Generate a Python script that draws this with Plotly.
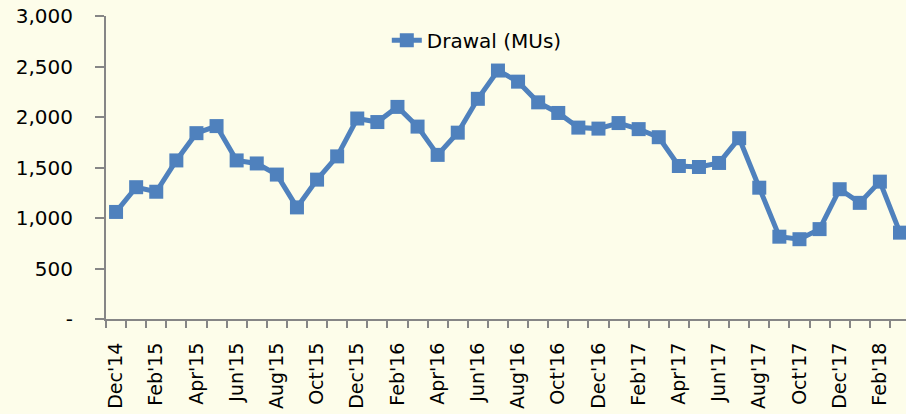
import plotly.graph_objects as go

months = ["Dec'14", "Jan'15", "Feb'15", "Mar'15", "Apr'15", "May'15", "Jun'15", "Jul'15",
          "Aug'15", "Sep'15", "Oct'15", "Nov'15", "Dec'15", "Jan'16", "Feb'16", "Mar'16",
          "Apr'16", "May'16", "Jun'16", "Jul'16", "Aug'16", "Sep'16", "Oct'16", "Nov'16",
          "Dec'16", "Jan'17", "Feb'17", "Mar'17", "Apr'17", "May'17", "Jun'17", "Jul'17",
          "Aug'17", "Sep'17", "Oct'17", "Nov'17", "Dec'17", "Jan'18", "Feb'18", "Mar'18"]
drawal = [1060, 1305, 1260, 1570, 1840, 1910, 1570, 1540, 1430, 1105, 1380, 1610,
          1985, 1950, 2100, 1905, 1625, 1845, 2180, 2460, 2350, 2145, 2040, 1895,
          1885, 1940, 1880, 1800, 1515, 1505, 1545, 1790, 1300, 815, 790, 890,
          1285, 1150, 1360, 855]
y_ticks = [0, 500, 1000, 1500, 2000, 2500, 3000]
y_labels = ["-", "500", "1,000", "1,500", "2,000", "2,500", "3,000"]

bg = "#FDFDEA"
axis_col = "#868686"
blue = "#4F81BD"

idx = list(range(len(months)))

fig = go.Figure()
fig.add_trace(go.Scatter(
    x=idx, y=drawal, mode="lines+markers", name="Drawal (MUs)",
    line=dict(color=blue, width=5),
    marker=dict(symbol="square", size=14, color=blue),
))

fig.update_layout(
    width=906, height=414,
    margin=dict(l=106, r=0, t=16, b=95),
    paper_bgcolor=bg, plot_bgcolor=bg,
    font=dict(family="DejaVu Sans", size=20, color="#000000"),
    showlegend=True,
    legend=dict(x=0.351, y=0.92, xanchor="left", yanchor="middle",
                bgcolor="rgba(0,0,0,0)", font=dict(size=20)),
)
fig.update_xaxes(
    range=[-0.5, 39.3], automargin=False,
    tickvals=idx[::2], ticktext=months[::2], tickangle=-90,
    ticks="", ticklabelstandoff=14, tickfont=dict(size=19),
    showline=True, linecolor=axis_col, linewidth=2,
    showgrid=False, zeroline=False,
    minor=dict(tickvals=[i - 0.5 for i in range(len(months) + 1)],
               ticks="outside", ticklen=7, tickcolor=axis_col, tickwidth=2, showgrid=False),
)
fig.update_yaxes(
    range=[0, 3000], automargin=False,
    tickvals=y_ticks, ticktext=y_labels,
    ticks="outside", ticklen=9, tickcolor=axis_col, tickwidth=2,
    ticklabelstandoff=18,
    showline=True, linecolor=axis_col, linewidth=2,
    showgrid=False, zeroline=False,
)

fig.write_html("out.html",
               config={"displayModeBar": False},
               post_script="document.body.style.margin='0';"
                           "document.body.style.background='%s';"
                           "document.body.style.overflow='hidden';" % bg)
